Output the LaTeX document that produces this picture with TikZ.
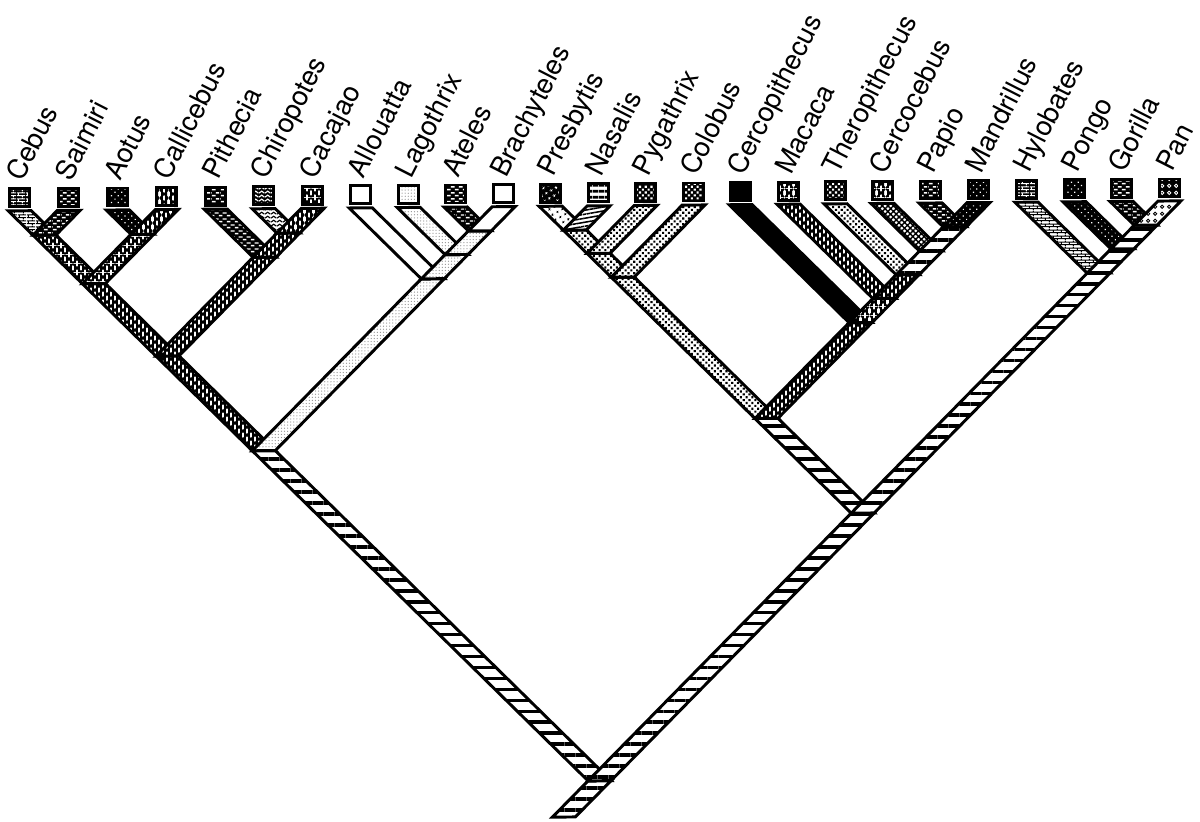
\documentclass[tikz,border=0pt]{standalone}
\usepackage{fontspec}
\setmainfont{TeX Gyre Heros}
\usetikzlibrary{calc,patterns.meta}

% tile patterns for the character states
\pgfdeclarepattern{name=Brick,type=uncolored,
  bottom left={\pgfpoint{0pt}{0pt}},top right={\pgfpoint{6pt}{4pt}},
  tile size={\pgfpoint{6pt}{4pt}},
  code={\pgfsetlinewidth{0.8pt}
    \pgfpathmoveto{\pgfpoint{0pt}{1pt}}\pgfpathlineto{\pgfpoint{6pt}{1pt}}
    \pgfpathmoveto{\pgfpoint{0pt}{3pt}}\pgfpathlineto{\pgfpoint{6pt}{3pt}}
    \pgfpathmoveto{\pgfpoint{1pt}{1pt}}\pgfpathlineto{\pgfpoint{1pt}{3pt}}
    \pgfpathmoveto{\pgfpoint{4pt}{3pt}}\pgfpathlineto{\pgfpoint{4pt}{4pt}}
    \pgfpathmoveto{\pgfpoint{4pt}{0pt}}\pgfpathlineto{\pgfpoint{4pt}{1pt}}
    \pgfusepath{stroke}}}
\pgfdeclarepattern{name=Dash,type=uncolored,
  bottom left={\pgfpoint{0pt}{0pt}},top right={\pgfpoint{6pt}{4pt}},
  tile size={\pgfpoint{6pt}{4pt}},
  code={\pgfsetlinewidth{1.1pt}
    \pgfpathmoveto{\pgfpoint{0.6pt}{1pt}}\pgfpathlineto{\pgfpoint{3.4pt}{1pt}}
    \pgfpathmoveto{\pgfpoint{3.6pt}{3pt}}\pgfpathlineto{\pgfpoint{6pt}{3pt}}
    \pgfpathmoveto{\pgfpoint{0pt}{3pt}}\pgfpathlineto{\pgfpoint{0.4pt}{3pt}}
    \pgfusepath{stroke}}}
\pgfdeclarepattern{name=Zig,type=uncolored,
  bottom left={\pgfpoint{0pt}{0pt}},top right={\pgfpoint{4pt}{3pt}},
  tile size={\pgfpoint{4pt}{3pt}},
  code={\pgfsetlinewidth{0.9pt}
    \pgfpathmoveto{\pgfpoint{0pt}{0.7pt}}\pgfpathlineto{\pgfpoint{2pt}{2.3pt}}
    \pgfpathlineto{\pgfpoint{4pt}{0.7pt}}
    \pgfusepath{stroke}}}
\pgfdeclarepattern{name=Ring,type=uncolored,
  bottom left={\pgfpoint{0pt}{0pt}},top right={\pgfpoint{5pt}{5pt}},
  tile size={\pgfpoint{5pt}{5pt}},
  code={\pgfsetlinewidth{0.7pt}
    \pgfpathcircle{\pgfpoint{2.5pt}{2.5pt}}{1.3pt}
    \pgfusepath{stroke}}}
\pgfdeclarepattern{name=Platy,type=uncolored,
  bottom left={\pgfpoint{0pt}{0pt}},top right={\pgfpoint{6pt}{6pt}},
  tile size={\pgfpoint{6pt}{6pt}},
  code={\pgfsetlinewidth{1.4pt}
    \pgfpathmoveto{\pgfpoint{1.5pt}{0pt}}\pgfpathlineto{\pgfpoint{1.5pt}{6pt}}
    \pgfpathmoveto{\pgfpoint{4.5pt}{0pt}}\pgfpathlineto{\pgfpoint{4.5pt}{6pt}}
    \pgfusepath{stroke}
    \pgfsetlinewidth{1.1pt}
    \pgfpathmoveto{\pgfpoint{0pt}{0pt}}\pgfpathlineto{\pgfpoint{6pt}{6pt}}
    \pgfpathmoveto{\pgfpoint{0pt}{6pt}}\pgfpathlineto{\pgfpoint{6pt}{0pt}}
    \pgfusepath{stroke}}}

\tikzset{
  band/.style={draw=black,line width=2.1pt,line join=miter,preaction={fill=white}},
  tipbox/.style={draw=black,line width=2pt,minimum width=5mm,minimum height=4.5mm,inner sep=0pt},
  taxon/.style={rotate=63,anchor=base west,inner sep=0pt,font=\fontsize{19.5}{22}\selectfont},
  inv/.style={preaction={fill=black},pattern color=white},
  pHatch/.style={pattern={Lines[angle=0,distance=7.8pt,line width=2.6pt]}},
  pPlaty/.style={pattern=Platy},
  pSpeck/.style={pattern={Dots[distance=2.2pt,radius=.45pt]},pattern color=gray!85},
  pWhite/.style={fill=white},
  pBlack/.style={fill=black},
  pDots/.style={pattern={Dots[distance=2.9pt,radius=1.05pt,angle=45]}},
  pDotsW/.style={preaction={fill=black},pattern={Dots[distance=3.4pt,radius=.6pt,angle=45]},pattern color=white},
  pBricks/.style={pattern=Brick},
  pDash/.style={preaction={fill=black},pattern=Dash,pattern color=white},
  pZig/.style={pattern=Zig},
  pCross/.style={pattern={Hatch[angle=45,distance=2.8pt,line width=1pt]}},
  pLines/.style={pattern={Lines[angle=10,distance=2.8pt,line width=1.1pt]}},
  pSparse/.style={pattern={Dots[distance=4pt,radius=.95pt,angle=30]}},
  pRings/.style={pattern=Ring},
  pBricksI/.style={pBricks,inv},
  pZigI/.style={pZig,inv},
  pSparseI/.style={pSparse,inv},
  pDotsI/.style={pDots,inv},
  pRingsI/.style={pRings,inv},
  pLinesI/.style={pattern={Lines[angle=0,distance=4pt,line width=2pt]}},
}

% band between two named points, cut level at both ends
\newcommand{\brn}[3]{\path[band,#1] ($(#2)+(-11.5,0)$) -- ($(#2)+(11.5,0)$)
  -- ($(#3)+(11.5,0)$) -- ($(#3)+(-11.5,0)$) -- cycle;}

\begin{document}
\begin{tikzpicture}[x={(0.024999cm,0.000218cm)},y={(0.000218cm,-0.024999cm)}]
  \useasboundingbox (0cm,0cm) rectangle (30cm,-20.525cm);
  % tips
  \foreach \x/\n/\bx in {18/Cebus/pBricksI,67/Saimiri/pDash,116/Aotus/pDotsW,
      165/Callicebus/pPlaty,214/Pithecia/pDash,262/Chiropotes/pZigI,311/Cacajao/pPlaty,
      359/Allouatta/pWhite,407/Lagothrix/pSpeck,454/Ateles/pDash,502/Brachyteles/pWhite,
      549/Presbytis/pSparseI,597/Nasalis/pLinesI,644/Pygathrix/pDotsI,692/Colobus/pDotsI,
      739/Cercopithecus/pBlack,787/Macaca/pPlaty,834/Theropithecus/pDotsI,
      881/Cercocebus/pPlaty,929/Papio/pDash,977/Mandrillus/pDotsW,
      1025/Hylobates/pBricksI,1073/Pongo/pDotsW,1120/Gorilla/pDash,1168/Pan/pRingsI}{
    \coordinate (\n) at (\x,211);
    \node[tipbox,\bx] (\n-box) at (\x,198) {};
    \node[taxon] (\n-lab) at ($(\n-box)+(3,-15)$) {\n};
  }
  % internal nodes
  \coordinate (nCeSa) at (42.5,235.5);
  \coordinate (nAoCa) at (140.5,235.5);
  \coordinate (nA) at (91.5,284.5);
  \coordinate (nChCa) at (286.5,235.5);
  \coordinate (nB) at (262.5,259.5);
  \coordinate (nAB) at (164.5,357.5);
  \coordinate (nAtBr) at (478,235);
  \coordinate (nLag) at (454.5,258.5);
  \coordinate (nAtel) at (430.5,282.5);
  \coordinate (nPlat) at (260,453);
  \coordinate (nPrNa) at (573,235);
  \coordinate (nPyg) at (596.5,258.5);
  \coordinate (nColob) at (620.5,282.5);
  \coordinate (nPaMa) at (953,235);
  \coordinate (nCerco) at (929,259);
  \coordinate (nThero) at (905.5,282.5);
  \coordinate (nMaca) at (882,306);
  \coordinate (nCercop) at (858,330);
  \coordinate (nOWM) at (763,425);
  \coordinate (nGoPa) at (1144,235);
  \coordinate (nPongo) at (1120.5,258.5);
  \coordinate (nHom) at (1096.5,282.5);
  \coordinate (nCat) at (858.5,520.5);
  \coordinate (nRoot) at (593,786);
  \coordinate (base) at (557,822);
  % branches, parent before child, left before right
  \foreach \st/\a/\b in {pHatch/base/nRoot,pHatch/nRoot/nPlat,
      pPlaty/nPlat/nAB,pPlaty/nAB/nA,pPlaty/nA/nCeSa,pBricks/nCeSa/Cebus,pDash/nCeSa/Saimiri,
      pPlaty/nA/nAoCa,pDotsW/nAoCa/Aotus,pPlaty/nAoCa/Callicebus,
      pPlaty/nAB/nB,pDash/nB/Pithecia,pPlaty/nB/nChCa,pZig/nChCa/Chiropotes,pPlaty/nChCa/Cacajao,
      pSpeck/nPlat/nAtel,pWhite/nAtel/Allouatta,pSpeck/nAtel/nLag,pSpeck/nLag/Lagothrix,
      pSpeck/nLag/nAtBr,pDash/nAtBr/Ateles,pWhite/nAtBr/Brachyteles,
      pHatch/nRoot/nCat,pHatch/nCat/nOWM,
      pDots/nOWM/nColob,pDots/nColob/nPyg,pDots/nPyg/nPrNa,pSparse/nPrNa/Presbytis,
      pLines/nPrNa/Nasalis,pDots/nPyg/Pygathrix,pDots/nColob/Colobus,
      pPlaty/nOWM/nCercop,pBlack/nCercop/Cercopithecus,pPlaty/nCercop/nMaca,
      pPlaty/nMaca/Macaca,pPlaty/nMaca/nThero,pDots/nThero/Theropithecus,
      pHatch/nThero/nCerco,pCross/nCerco/Cercocebus,pHatch/nCerco/nPaMa,
      pDash/nPaMa/Papio,pDotsW/nPaMa/Mandrillus,
      pHatch/nCat/nHom,pBricks/nHom/Hylobates,pHatch/nHom/nPongo,pDotsW/nPongo/Pongo,
      pHatch/nPongo/nGoPa,pDash/nGoPa/Gorilla,pRings/nGoPa/Pan}
    \brn{\st}{\a}{\b};
\end{tikzpicture}
\end{document}
